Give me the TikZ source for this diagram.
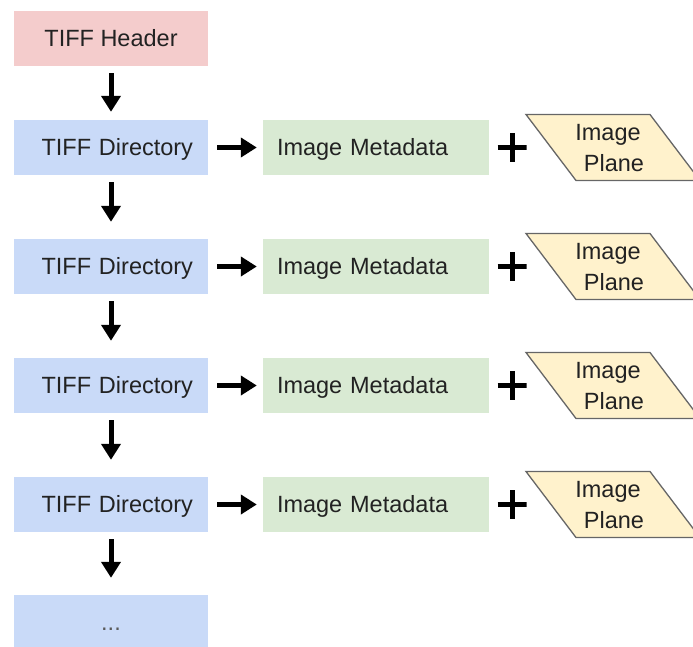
\documentclass[tikz,border=0pt]{standalone}
\usepackage{fontspec}
\setmainfont{Liberation Sans}
\usetikzlibrary{arrows.meta,calc}
\definecolor{hdrpink}{HTML}{F4CCCC}
\definecolor{dirblue}{HTML}{C9DAF8}
\definecolor{metagreen}{HTML}{D9EAD3}
\definecolor{planeyellow}{HTML}{FFF2CC}
\definecolor{planeborder}{HTML}{666666}
\definecolor{txt}{HTML}{222222}
\begin{document}
\begin{tikzpicture}[x=1pt,y=-1pt,
  lbl/.style={font=\fontsize{23.5}{31}\selectfont, text=txt, text height=16.8pt, text depth=0pt},
  hdrbox/.style={lbl, fill=hdrpink, minimum width=194pt, minimum height=55pt, inner sep=0pt},
  dirbox/.style={lbl, fill=dirblue, minimum width=194pt, minimum height=55pt, inner xsep=15pt, inner ysep=0pt, text width=164pt, align=right},
  dotsbox/.style={lbl, fill=dirblue, minimum width=194pt, minimum height=55pt, inner sep=0pt, text=black!65},
  metabox/.style={lbl, fill=metagreen, minimum width=226pt, minimum height=55pt, inner xsep=14pt, inner ysep=0pt, text width=198pt, align=left},
  planeshape/.style={fill=planeyellow, draw=planeborder, line width=1.3pt, line join=miter},
  planetext/.style={lbl, inner sep=0pt},
  plussign/.style={minimum size=29pt, inner sep=0pt, path picture={\draw[line width=5pt]
      (path picture bounding box.north) -- (path picture bounding box.south)
      (path picture bounding box.west) -- (path picture bounding box.east);}},
  arr/.style={line width=5pt, -{Triangle[width=19pt,length=16pt]}},
]
\useasboundingbox (0,0) rectangle (693,646);
\clip (0,0) rectangle (693,646);

\node[hdrbox] (hdr) at (111,38.5) {TIFF Header};
\foreach \i/\c in {1/147.5,2/266.5,3/385.5,4/504.5}{
  \node[dirbox] (dir\i) at (111,\c) {TIFF Directory};
  \node[metabox] (meta\i) at (376,\c) {Image Metadata};
  \node[plussign] (plus\i) at (512,\c) {};
  \coordinate (pc\i) at (613,\c);
  \filldraw[planeshape] ($(pc\i)+(-87,-33)$) -- ($(pc\i)+(37,-33)$) -- ($(pc\i)+(87,33)$) -- ($(pc\i)+(-37,33)$) -- cycle;
  \node[planetext] (planeA\i) at ($(pc\i)+(-5,-15.5)$) {Image};
  \node[planetext] (planeB\i) at ($(pc\i)+(1,15.5)$) {Plane};
  \draw[arr, shorten <=9pt, shorten >=6pt] (dir\i.east) -- (meta\i.west);
}
\node[dotsbox] (more) at (111,622.5) {...};

\draw[arr, shorten <=7pt, shorten >=8pt] (hdr.south) -- (dir1.north);
\draw[arr, shorten <=7pt, shorten >=17pt] (dir1.south) -- (dir2.north);
\draw[arr, shorten <=7pt, shorten >=17pt] (dir2.south) -- (dir3.north);
\draw[arr, shorten <=7pt, shorten >=17pt] (dir3.south) -- (dir4.north);
\draw[arr, shorten <=7pt, shorten >=17pt] (dir4.south) -- (more.north);
\end{tikzpicture}
\end{document}
